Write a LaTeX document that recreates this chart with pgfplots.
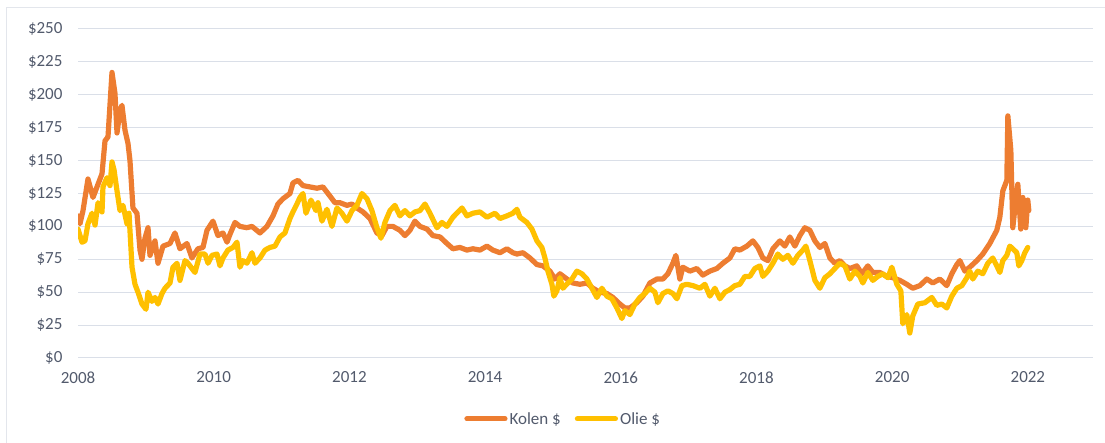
\documentclass[border=0pt]{standalone}
\usepackage{pgfplots}
\pgfplotsset{compat=1.18}
\usepackage{pgfplotstable}
\usepackage{fontspec}
\setmainfont{Carlito}
\definecolor{coal}{HTML}{ED7D31}
\definecolor{oil}{HTML}{FFC000}
\definecolor{txt}{RGB}{82,90,108}
\definecolor{gridc}{HTML}{DADFE8}
\definecolor{framec}{HTML}{E3E6EC}

\pgfplotstableread{
x y
2008.000 108
2008.029 102
2008.074 112
2008.147 136
2008.221 122
2008.280 130
2008.354 140
2008.398 165
2008.442 168
2008.501 217
2008.545 201
2008.575 171
2008.619 188
2008.648 192
2008.693 173
2008.737 163
2008.766 150
2008.810 114
2008.869 110
2008.914 82
2008.943 75
2008.987 91
2009.032 99
2009.061 78
2009.135 89
2009.179 72
2009.253 85
2009.356 87
2009.429 95
2009.503 83
2009.606 87
2009.680 76
2009.768 83
2009.842 84
2009.901 97
2009.989 104
2010.063 93
2010.137 95
2010.196 88
2010.240 94
2010.314 103
2010.387 100
2010.490 99
2010.564 100
2010.682 95
2010.785 100
2010.874 108
2010.947 117
2011.021 121
2011.124 125
2011.168 133
2011.242 135
2011.316 131
2011.419 130
2011.522 129
2011.610 130
2011.714 123
2011.787 118
2011.861 118
2011.964 116
2012.038 117
2012.111 114
2012.200 111
2012.303 106
2012.406 95
2012.480 93
2012.553 100
2012.642 100
2012.745 97
2012.819 93
2012.892 97
2012.966 104
2013.040 100
2013.143 98
2013.231 93
2013.335 92
2013.438 87
2013.526 83
2013.629 84
2013.732 82
2013.821 83
2013.924 82
2014.027 85
2014.115 82
2014.219 80
2014.322 83
2014.410 80
2014.469 79
2014.558 80
2014.661 76
2014.764 71
2014.852 70
2014.956 66
2015.029 60
2015.103 64
2015.206 60
2015.294 57
2015.398 56
2015.501 57
2015.589 53
2015.692 50
2015.795 49
2015.884 46
2015.987 41
2016.061 38
2016.134 38
2016.237 42
2016.326 47
2016.429 57
2016.532 60
2016.621 60
2016.694 64
2016.768 72
2016.812 78
2016.871 60
2016.915 69
2017.018 66
2017.121 68
2017.210 63
2017.313 66
2017.416 68
2017.505 72
2017.608 76
2017.681 83
2017.755 82
2017.858 85
2017.947 89
2018.021 84
2018.094 76
2018.168 74
2018.242 83
2018.345 89
2018.418 85
2018.492 92
2018.566 85
2018.639 93
2018.713 99
2018.787 97
2018.861 89
2018.934 84
2019.008 87
2019.082 76
2019.155 72
2019.229 74
2019.303 70
2019.376 68
2019.479 70
2019.553 64
2019.641 70
2019.715 65
2019.818 65
2019.921 62
2020.010 61
2020.113 59
2020.216 56
2020.304 53
2020.408 55
2020.511 60
2020.599 57
2020.702 60
2020.805 55
2020.879 64
2020.953 71
2020.997 74
2021.071 66
2021.144 69
2021.248 74
2021.336 79
2021.439 87
2021.542 97
2021.587 107
2021.631 127
2021.690 135
2021.705 184
2021.749 158
2021.778 99
2021.822 120
2021.852 132
2021.896 98
2021.926 122
2021.970 99
2021.999 120
2022.014 112
}\coaltable

\pgfplotstableread{
x y
2008.000 98
2008.059 88
2008.103 89
2008.147 102
2008.206 110
2008.251 101
2008.295 118
2008.354 111
2008.368 130
2008.427 137
2008.472 131
2008.501 149
2008.531 143
2008.575 127
2008.619 112
2008.663 116
2008.722 102
2008.752 110
2008.796 69
2008.840 56
2008.884 50
2008.943 41
2009.002 37
2009.032 50
2009.090 43
2009.135 46
2009.179 41
2009.238 49
2009.282 53
2009.356 57
2009.400 69
2009.459 72
2009.503 59
2009.577 74
2009.621 72
2009.680 68
2009.724 65
2009.798 79
2009.871 79
2009.916 72
2009.975 78
2010.048 79
2010.093 70
2010.137 76
2010.210 82
2010.284 84
2010.343 88
2010.387 69
2010.431 74
2010.490 72
2010.564 80
2010.608 72
2010.682 76
2010.756 82
2010.829 84
2010.903 85
2010.977 92
2011.050 95
2011.124 106
2011.168 111
2011.227 117
2011.271 122
2011.316 125
2011.360 110
2011.434 120
2011.507 112
2011.537 118
2011.596 104
2011.669 113
2011.743 100
2011.817 114
2011.890 110
2011.964 104
2012.038 112
2012.111 116
2012.185 125
2012.259 121
2012.332 112
2012.406 99
2012.465 91
2012.524 103
2012.598 112
2012.671 116
2012.745 108
2012.819 112
2012.892 108
2012.966 111
2013.040 112
2013.114 117
2013.187 110
2013.290 99
2013.364 103
2013.438 100
2013.526 107
2013.659 114
2013.732 108
2013.821 110
2013.924 111
2014.027 107
2014.145 110
2014.219 106
2014.322 108
2014.410 110
2014.469 113
2014.513 107
2014.616 103
2014.690 98
2014.764 89
2014.837 84
2014.882 76
2014.926 66
2014.985 56
2015.014 47
2015.058 51
2015.103 61
2015.147 53
2015.221 57
2015.280 60
2015.353 66
2015.427 64
2015.501 60
2015.574 53
2015.648 46
2015.722 53
2015.795 47
2015.869 45
2015.943 38
2016.016 30
2016.061 36
2016.134 33
2016.208 41
2016.282 46
2016.355 49
2016.429 53
2016.503 50
2016.547 42
2016.621 49
2016.694 51
2016.768 49
2016.827 45
2016.901 55
2016.974 56
2017.063 55
2017.166 53
2017.240 56
2017.313 47
2017.387 53
2017.461 45
2017.534 50
2017.608 52
2017.681 55
2017.755 56
2017.829 62
2017.902 62
2017.976 68
2018.050 70
2018.094 62
2018.168 66
2018.242 72
2018.315 79
2018.389 75
2018.463 78
2018.537 72
2018.610 78
2018.684 82
2018.728 85
2018.787 74
2018.861 59
2018.934 53
2019.008 61
2019.082 64
2019.155 68
2019.229 72
2019.303 70
2019.376 60
2019.450 66
2019.524 62
2019.568 57
2019.641 65
2019.715 59
2019.789 62
2019.862 64
2019.936 61
2019.995 69
2020.069 56
2020.128 51
2020.157 26
2020.216 33
2020.260 19
2020.304 32
2020.378 41
2020.481 42
2020.584 46
2020.658 40
2020.732 41
2020.805 38
2020.879 47
2020.953 53
2021.027 55
2021.100 61
2021.144 66
2021.189 60
2021.262 66
2021.336 64
2021.410 72
2021.483 76
2021.542 70
2021.587 65
2021.631 74
2021.690 78
2021.734 85
2021.778 83
2021.837 80
2021.867 70
2021.911 74
2021.955 80
2021.999 84
}\oiltable

\begin{document}
\begin{tikzpicture}
\useasboundingbox (0pt,0pt) rectangle (1105pt,443pt);
\draw[framec, line width=1pt] (6pt,-5pt) -- (6pt,435pt) -- (1110pt,435pt);
\begin{axis}[
  at={(78pt,85pt)}, anchor=south west,
  scale only axis, width=1015pt, height=329pt,
  xmin=2008, xmax=2022.96, ymin=0, ymax=250,
  axis line style={draw=none},
  major tick length=0pt,
  xtick={2008,2010,...,2022},
  ytick={0,25,...,250},
  xmajorgrids=false, ymajorgrids=true,
  major grid style={draw=gridc, line width=1pt},
  x tick label style={/pgf/number format/1000 sep={}, text=txt, yshift=-10pt},
  y tick label style={text=txt, xshift=-12pt},
  /pgf/number format/assume math mode=true,
  yticklabel={\$\pgfmathprintnumber{\tick}},
  tick label style={font=\fontsize{17}{20}\selectfont},
  legend columns=2,
  legend style={at={(0.478,-0.185)}, anchor=center, draw=none, fill=none,
    font=\fontsize{17}{20}\selectfont, text=txt,
    /tikz/every even column/.append style={column sep=12pt}},
  legend image code/.code={\draw[#1, line cap=round] (0pt,0pt) -- (38pt,0pt);},
]
\addplot[coal, no marks, line width=5.2pt, line join=round, line cap=round] table[x=x,y=y]{\coaltable};
\addlegendentry{Kolen \$}
\addplot[oil, no marks, line width=5.2pt, line join=round, line cap=round] table[x=x,y=y]{\oiltable};
\addlegendentry{Olie \$}
\end{axis}
\end{tikzpicture}
\end{document}
